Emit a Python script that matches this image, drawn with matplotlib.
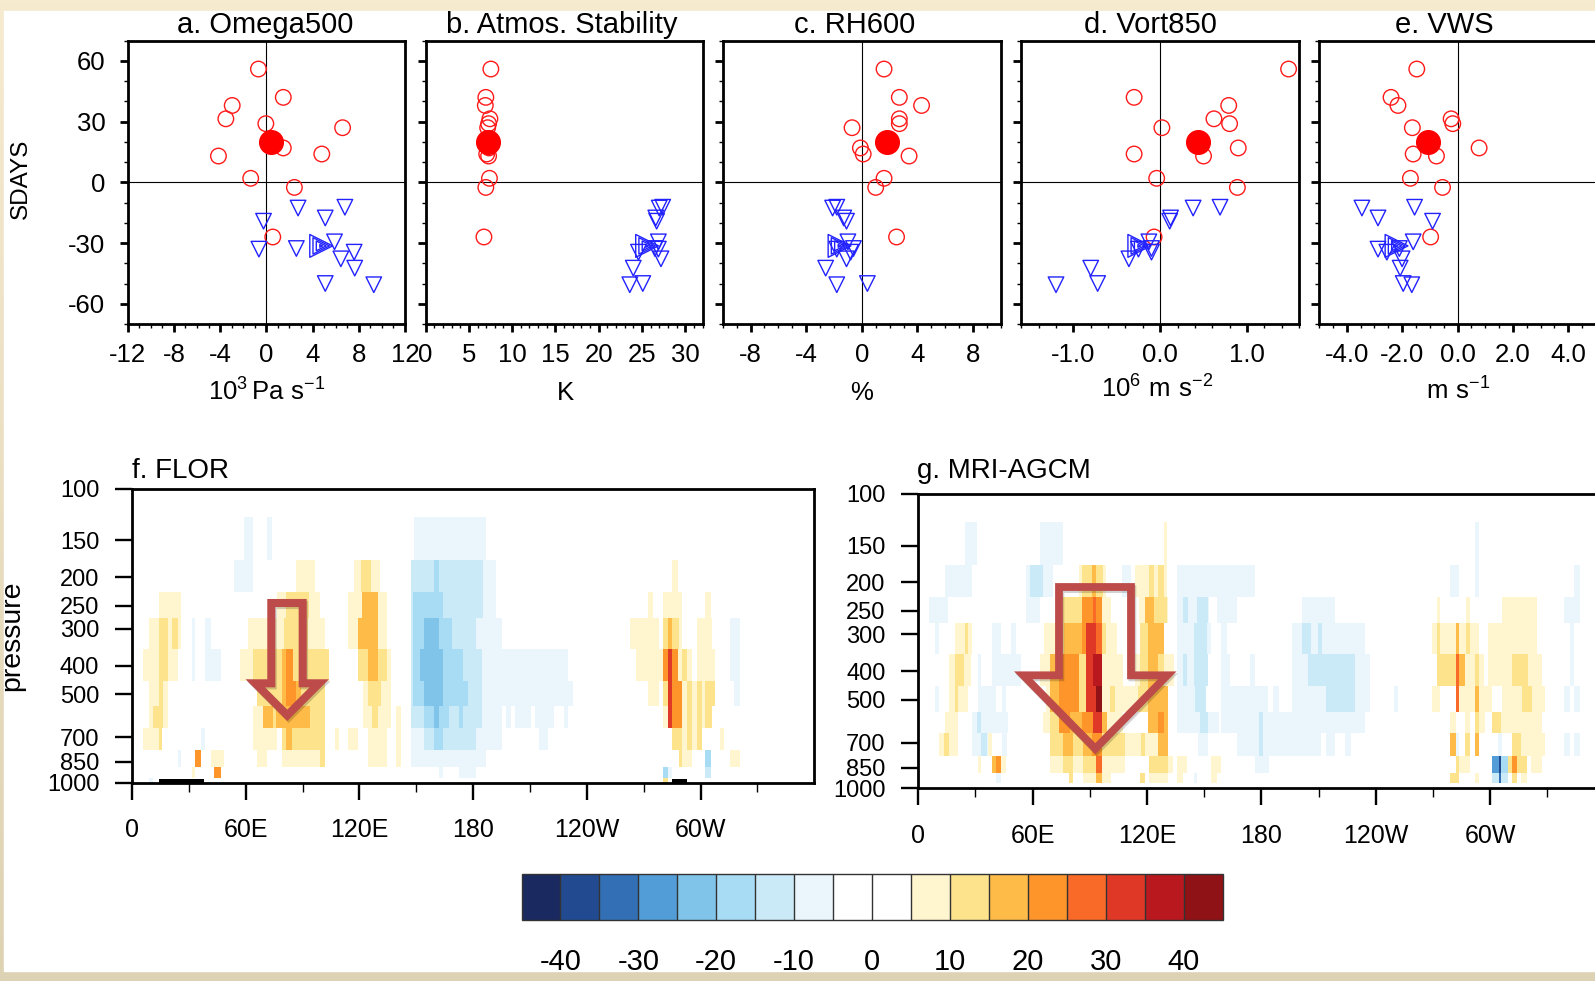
import numpy as np
import matplotlib
matplotlib.use("Agg")
import matplotlib.pyplot as plt
import matplotlib.patheffects as pe
from matplotlib.colors import ListedColormap, BoundaryNorm
from matplotlib.patches import Polygon, Rectangle
from matplotlib.ticker import MultipleLocator, FixedLocator, NullLocator

plt.rcParams["font.family"] = ["Liberation Sans", "DejaVu Sans"]
plt.rcParams["mathtext.default"] = "regular"
plt.rcParams["axes.unicode_minus"] = False

W, H = 1595, 981

# scatter panels: same SDAYS for every panel, one x list per panel
circle_y = [56, 42, 38, 31.4, 29, 27, 17, 14, 13, 2, -2.5, -27]
tri_y = [-12.7, -12.3, -17.6, -19.2, -33, -32.7, -29.4, -34.5, -37.8, -42.4, -50, -50.6]
mean_y = 20
side_y = -31.4

omega_circ = [-0.68, 1.47, -2.95, -3.5, -0.04, 6.6, 1.47, 4.8, -4.14, -1.35, 2.43, 0.56]
omega_tri = [2.75, 6.8, 5.1, -0.24, -0.64, 2.6, 5.9, 7.6, 6.45, 7.65, 5.1, 9.3]
stab_circ = [7.54, 6.96, 6.9, 7.43, 7.28, 7.17, 7.33, 7.06, 7.28, 7.38, 6.96, 6.74]
stab_tri = [27.0, 27.4, 26.6, 26.7, 26.9, 26.5, 26.9, 24.6, 27.2, 24.0, 25.1, 23.6]
rh_circ = [1.6, 2.7, 4.3, 2.7, 2.7, -0.7, -0.1, 0.1, 3.4, 1.6, 1.0, 2.5]
rh_tri = [-2.1, -1.8, -1.3, -1.1, -1.8, -0.6, -1.0, -0.8, -1.1, -2.6, 0.4, -1.8]
vort_circ = [1.48, -0.3, 0.79, 0.62, 0.8, 0.02, 0.9, -0.3, 0.5, -0.04, 0.89, -0.07]
vort_tri = [0.38, 0.69, 0.12, 0.11, -0.25, -0.1, -0.13, -0.1, -0.36, -0.8, -0.72, -1.2]
vws_circ = [-1.47, -2.4, -2.15, -0.23, -0.17, -1.63, 0.78, -1.6, -0.76, -1.7, -0.54, -0.97]
vws_tri = [-3.45, -1.55, -2.87, -0.9, -2.87, -2.1, -1.6, -2.55, -2.0, -2.07, -1.96, -1.65]
mean_x = [0.4, 7.17, 1.8, 0.44, -1.07]
side_x = [4.75, 25.6, -1.6, -0.24, -2.2]

# pressure levels and cell edges of the sections
levels = [150, 200, 250, 300, 400, 500, 600, 700, 850, 925, 1000]
p_edges = [125, 175, 225, 275, 350, 450, 550, 650, 775, 887.5, 962.5, 1000]
p_ticks = [100, 150, 200, 250, 300, 400, 500, 700, 850, 1000]

# colour classes
cmap_colors = ["#1A2A60", "#214A90", "#336FB5", "#529DD7", "#80C4E9", "#A8DCF4",
               "#CBEAF8", "#EAF6FC", "#FFFFFF", "#FFFFFF", "#FFF5CF", "#FDE38B",
               "#FEBB47", "#FD952B", "#F96A28", "#E03826", "#BA181F", "#8E1216"]
cb_bounds = list(range(-45, 50, 5))
cb_ticks = list(range(-40, 50, 10))

# f. FLOR spans per level (lon start, lon end, value), later spans paint over earlier
f_150 = [(59, 64, -7.5), (71, 74, -7.5), (149, 187, -7.5)]
f_200 = [(54, 64, -7.5), (86.5, 96.7, 7.5), (117, 131, 7.5), (121, 126, 12.5),
         (147, 185, -12.5), (159.5, 162, -17.5), (185, 192, -7.5), (285, 288, 7.5)]
f_250 = [(14, 26, 7.5), (76.5, 99, 7.5), (81.4, 93.3, 12.5), (114, 134.5, 7.5),
         (121.4, 130, 17.5), (147, 185, -12.5), (148, 164.2, -17.5), (185, 192, -7.5),
         (272.6, 275, 7.5), (280, 290, 7.5), (302.5, 305.6, 7.5)]
f_300 = [(9, 26, 7.5), (14, 19, 12.5), (21, 24.6, 12.5), (31.4, 33, -7.5), (38.8, 41.6, -7.5),
         (61, 102, 7.5), (80, 93, 12.5), (114, 134.5, 7.5), (119.6, 130, 17.5),
         (147, 182, -12.5), (148, 169, -17.5), (154, 162, -22.5), (181.8, 195, -7.5),
         (262.5, 278, 7.5), (280, 290, 7.5), (280, 288.5, 12.5), (283, 285, 17.5),
         (298, 306, 7.5), (315.8, 321, -7.5)]
f_400 = [(6, 24.4, 7.5), (14, 19, 12.5), (31.4, 33, -7.5), (38.8, 46.8, -7.5),
         (56.8, 104, 7.5), (64, 104, 12.5), (79.3, 81.4, 17.5), (81.4, 84.9, 22.5),
         (119.6, 136.7, 7.5), (119.6, 134.5, 12.5), (124.4, 130, 17.5), (147, 184.8, -12.5),
         (148, 174.8, -17.5), (152, 164.2, -22.5), (184.8, 230, -7.5), (266, 280, 7.5),
         (280, 288, 22.5), (283, 285, 32.5), (288, 295.4, 7.5), (290, 293, 12.5),
         (298, 307.4, 7.5), (315.8, 321, -7.5)]
f_500 = [(9, 19, 7.5), (14, 16.5, 12.5), (66, 102, 12.5), (79.3, 81.4, 17.5), (81.4, 86.6, 22.5),
         (86.6, 89, 17.5), (121.8, 136.7, 7.5), (124.4, 131.4, 12.5), (147, 184.8, -12.5),
         (148, 177.6, -17.5), (154, 164.2, -22.5), (184.8, 232.8, -7.5), (272.6, 278, 7.5),
         (280, 283, 12.5), (283, 285, 32.5), (285, 290, 22.5), (290, 293, 7.5), (293, 295.4, 12.5),
         (295.4, 298, 7.5), (298, 300.7, 12.5), (300.7, 302.5, 7.5), (302.5, 307.4, 12.5),
         (317.7, 321, -7.5)]
f_600 = [(9, 19, 7.5), (10.9, 16.5, 12.5), (64, 69, 7.5), (69, 74.4, 17.5), (74.4, 76, 12.5),
         (76, 93.7, 17.5), (93.7, 102, 12.5), (121.8, 136.7, 7.5), (126.6, 130, 12.5),
         (139.6, 141.8, 7.5), (147, 184.8, -12.5), (154, 167.5, -17.5), (159.5, 162, -22.5),
         (172.6, 174.8, -17.5), (184.8, 195, -7.5), (197.2, 200, -7.5), (202, 210.5, -7.5),
         (212.6, 222.6, -7.5), (227.9, 230, -7.5), (280, 283, 7.5), (283, 285, 32.5),
         (285, 290, 22.5), (290, 293, 7.5), (293, 295.4, 12.5), (295.4, 298, 7.5),
         (298, 300.7, 12.5), (300.7, 302.5, 7.5), (302.5, 306, 12.5)]
f_700 = [(6, 16, 7.5), (14, 16, 12.5), (36.5, 38.6, -7.5), (64, 76.5, 7.5), (79.3, 102, 12.5),
         (81.4, 84.6, 17.5), (107, 109, 7.5), (114, 119.6, 7.5), (124.4, 134.5, 7.5),
         (139.6, 141.8, 7.5), (147, 181.8, -7.5), (154, 181.8, -12.5), (159.5, 164.2, -17.5),
         (181.8, 195, -7.5), (214.8, 219.7, -7.5), (285, 290, 12.5), (290, 293, 7.5),
         (293, 295.4, 12.5), (295.4, 298, 7.5), (298, 300.7, 12.5), (310.5, 312.6, 7.5)]
f_850 = [(24.4, 26, -7.5), (33, 36.5, 22.5), (41.4, 48.6, 7.5), (66, 71, 7.5), (79.3, 102, 7.5),
         (99, 102, 12.5), (124.4, 134.5, 7.5), (139.6, 141.8, 7.5), (147, 186.7, -7.5),
         (288.4, 290, 12.5), (290, 295.4, 7.5), (302.5, 305.6, -17.5), (315.8, 321, 7.5)]
f_925 = [(31.4, 33, 7.5), (43.5, 46.8, 22.5), (162, 164.2, -7.5), (172.6, 181.8, -7.5),
         (280, 283, -17.5), (283, 285, -7.5), (302.5, 305.6, -12.5)]
f_1000 = [(9, 11, -7.5), (280, 283, 12.5)]
f_spans = [f_150, f_200, f_250, f_300, f_400, f_500, f_600, f_700, f_850, f_925, f_1000]

# black bars along the bottom of f
f_bars = [(14, 38), (285, 293)]

# g. MRI-AGCM spans per level
g_150 = [(24.3, 31, -7.5), (63.8, 75.9, -7.5), (129, 130.8, 7.5), (292, 294, -7.5)]
g_200 = [(13.8, 28, -7.5), (56.8, 70.8, -7.5), (58.6, 65.6, -12.5), (84.4, 98.4, 7.5),
         (85.7, 97, 12.5), (91.3, 93.2, 17.5), (106.8, 111.5, -7.5), (113.8, 130.8, 7.5),
         (121, 123.8, 12.5), (125.9, 129, 12.5), (136, 176.6, -7.5), (278.8, 283.7, -7.5),
         (292, 294, -7.5), (344, 347, -7.5)]
g_250 = [(5.8, 15.7, -7.5), (56.8, 63.8, -7.5), (76, 85.7, 12.5), (86, 91.5, 22.5),
         (91.5, 93.6, 27.5), (93.6, 96.5, 22.5), (96.5, 101, 7.5), (116, 131, 7.5),
         (119, 123.8, 17.5), (123.8, 130.3, 12.5), (136, 167, -7.5), (139, 141.5, -12.5),
         (146, 151.7, -12.5), (152.5, 156.5, 0), (201.4, 218.5, -7.5), (271.9, 273.6, 7.5),
         (287.2, 289.3, 7.5), (306.3, 324.6, 7.5), (339, 347, -7.5)]
g_300 = [(8.7, 10.8, -7.5), (18.9, 28, 7.5), (24.5, 26.2, 12.5), (38.6, 43.2, -7.5),
         (48.4, 51.2, -7.5), (66, 71.8, 7.5), (71.8, 76.5, 12.5), (76.5, 86, 17.5), (86, 88, 22.5),
         (88, 93.3, 32.5), (93.3, 96.2, 27.5), (96.2, 98.5, 12.5), (98.5, 104.4, 7.5),
         (116.3, 120.7, 12.5), (120.7, 129, 17.5), (136, 153.5, -7.5), (144.6, 151.6, -12.5),
         (158.7, 161.7, -7.5), (196.3, 234.3, -7.5), (201.4, 206.3, -12.5), (209.4, 211.9, -12.5),
         (269.6, 282, 7.5), (271.9, 273.6, 12.5), (282, 283.7, 17.5), (283.7, 294, 7.5),
         (287.2, 289.3, 12.5), (299, 324.6, 7.5), (342, 344, -7.5)]
g_400 = [(16.3, 27.4, 7.5), (18.9, 24, 12.5), (31.5, 33, -7.5), (38.6, 53.8, -7.5),
         (63.8, 69, 7.5), (69, 74, 17.5), (74, 84.5, 22.5), (84.5, 88, 12.5),
         (88, 91.5, 32.5), (91.5, 96.2, 37.5), (96.2, 107.6, 7.5), (113.7, 116.3, 7.5),
         (116.3, 120.7, 12.5), (120.7, 126, 17.5), (126, 129, 12.5), (129, 134, 7.5),
         (136, 151.7, -7.5), (139, 141, -12.5), (144.6, 151.7, -12.5),
         (158.7, 163.5, -7.5), (174, 176.6, -7.5), (196.3, 204.5, -7.5), (204.5, 229, -12.5),
         (229, 236.9, -7.5), (271.9, 282, 12.5), (282, 283.7, 27.5), (283.7, 287, 17.5),
         (287, 292, 7.5), (292, 294, 12.5), (294, 296.9, 7.5), (299, 327, 7.5),
         (311.7, 320, 12.5), (342, 344, -7.5)]
g_500 = [(8.7, 10.8, -7.5), (16.3, 25.9, 7.5), (18.9, 21, 12.5), (31.5, 41, -7.5),
         (43.9, 46.3, -7.5), (67, 69, 7.5), (69, 74, 17.5), (74, 84.5, 22.5), (84.5, 88, 12.5),
         (88, 93.3, 32.5), (93.3, 96.6, 42.5), (96.6, 100.5, 7.5), (100.5, 103, 12.5),
         (103, 115.4, 7.5), (115.4, 120.7, 12.5), (120.7, 131.2, 17.5), (136, 145.2, -7.5),
         (145.2, 151, -12.5), (158.7, 183.6, -7.5), (186, 189, -7.5), (196.3, 214, -7.5),
         (214, 229, -12.5), (229, 236.9, -7.5), (249.5, 251.4, -7.5), (269.6, 273.6, 7.5),
         (282, 283.7, 27.5), (283.7, 292, 7.5), (292, 294, 17.5), (294, 301.2, 7.5),
         (306.3, 328.7, 7.5), (316.8, 321.7, 12.5), (339, 342, -7.5), (344, 347, -7.5)]
g_600 = [(13.8, 21, 7.5), (28, 47, -7.5), (31, 33, -12.5), (65.6, 69, 7.5), (69, 74, 12.5),
         (74, 79.6, 22.5), (79.6, 86, 17.5), (86, 91.5, 22.5), (91.5, 96.6, 32.5), (96.6, 98.9, 17.5),
         (98.9, 107.6, 7.5), (120.7, 131.2, 17.5), (126, 129, 22.5), (136, 158, -7.5),
         (148, 151.7, -12.5), (158.7, 234.3, -7.5), (178.8, 181, -12.5), (278.8, 282, 7.5),
         (286.7, 289.3, 7.5), (292, 294, 12.5), (294, 297.2, 7.5), (301.2, 306, 12.5), (306, 327, 7.5)]
g_700 = [(10.7, 21, 7.5), (13.6, 16, 12.5), (28, 36.7, -7.5), (32.9, 36.2, -12.5), (36.7, 38.5, 7.5),
         (43.7, 46.7, -7.5), (69, 108.5, 12.5), (76, 81, 17.5), (86.3, 91, 17.5), (91, 96.6, 22.5),
         (108.5, 126, 7.5), (116.7, 119, 12.5), (126, 131.2, 17.5), (146.5, 151.7, -7.5),
         (167, 211.5, -7.5), (178.8, 181, -12.5), (213.8, 218.5, -7.5), (223.8, 227, -7.5),
         (278.8, 282, 17.5), (282, 283.7, -7.5), (287, 289.3, 12.5), (292, 294, 17.5),
         (304, 306.3, -7.5), (311.7, 316.4, 12.5), (316.4, 328.7, 7.5), (339, 342, -7.5), (344, 347, -7.5)]
g_850 = [(31.5, 33, 7.5), (38.5, 41, 17.5), (41, 43.4, 22.5), (43.4, 46.3, 7.5), (69, 76, 7.5),
         (76, 81, 12.5), (81, 86.3, 7.5), (86.3, 93.3, 12.5), (93.3, 96.6, 27.5), (96.6, 108.5, 7.5),
         (121, 131.2, 12.5), (131.2, 133.7, 7.5), (136, 141.3, 7.5), (153.8, 158.7, 7.5),
         (176.6, 184, -7.5), (282, 283.7, 12.5), (283.7, 289.3, 7.5), (301, 304.5, -27.5),
         (304.5, 306, -37.5), (306, 309.4, -17.5), (309.4, 311.5, 12.5), (311.5, 314.3, 22.5),
         (314.3, 319.6, 12.5), (321.3, 327, 7.5)]
g_925 = [(41, 43.4, -7.5), (79.3, 81, 12.5), (86.3, 101, 7.5), (93.3, 96.6, 17.5), (116.3, 119, 12.5),
         (121, 131.2, 7.5), (136, 139, 7.5), (144.6, 146, -7.5), (153.5, 156.5, 7.5),
         (278.8, 283.7, 12.5), (292, 294, 7.5), (301, 309.4, -12.5), (304.5, 306, -32.5),
         (311.5, 314.3, 12.5), (316.4, 319.6, 7.5)]
g_1000 = []
g_spans = [g_150, g_200, g_250, g_300, g_400, g_500, g_600, g_700, g_850, g_925, g_1000]

lon_edges = np.arange(0, 360.25, 0.25)
lon_mid = (lon_edges[:-1] + lon_edges[1:]) / 2


def rect(x0, y0, x1, y1):
  # pixel box (origin top left) to figure fractions
  return [x0 / W, 1 - y1 / H, (x1 - x0) / W, (y1 - y0) / H]


def px(x, y):
  return x / W, 1 - y / H


def make_grid(spans):
  grid = np.zeros((len(levels), lon_mid.size))
  for i, level_spans in enumerate(spans):
    for lon0, lon1, val in level_spans:
      grid[i, (lon_mid >= lon0) & (lon_mid < lon1)] = val
  return grid


fig = plt.figure(figsize=(W / 100, H / 100), dpi=100)

# slide background: cream to tan, white page on top
bg = fig.add_axes([0, 0, 1, 1], zorder=-5)
bg.imshow(np.linspace(0, 1, 256).reshape(-1, 1), aspect="auto", extent=[0, 1, 0, 1],
          cmap=ListedColormap(np.linspace([0.965, 0.918, 0.812], [0.867, 0.827, 0.702], 256)))
bg.add_patch(Rectangle((4 / W, 1 - 970.5 / H), 1, 959.5 / H, color="white"))
bg.set_axis_off()

# top row
panels = [
  ("a. Omega500", omega_circ, omega_tri, (-12, 12), 4, 1, [-12, -8, -4, 0, 4, 8, 12], None,
   r"$10^{3}\,$Pa s$^{-1}$", 127.6, 405, 265, 267, 392),
  ("b. Atmos. Stability", stab_circ, stab_tri, (0, 32), 5, 1, [0, 5, 10, 15, 20, 25, 30], None,
   "K", 425.6, 702.5, 561.5, 565.5, 393),
  ("c. RH600", rh_circ, rh_tri, (-10, 10), 4, 1, [-8, -4, 0, 4, 8], None, "%", 722.8, 1000.8, 854.5, 862, 393),
  ("d. Vort850", vort_circ, vort_tri, (-1.6, 1.6), 1, 0.2, [-1, 0, 1], "%.1f",
   r"$10^{6}\ m\ s^{-2}$", 1021.3, 1299, 1150.5, 1157, 389),
  ("e. VWS", vws_circ, vws_tri, (-5, 5), 2, 0.5, [-4, -2, 0, 2, 4], "%.1f",
   r"$m\ s^{-1}$", 1319, 1596, 1444.5, 1458, 391),
]
for i, (title, cx, tx, xlim, maj, mnr, xt, fmt, xlab, left, right, title_x, lab_x, lab_y) in enumerate(panels):
  ax = fig.add_axes(rect(left, 40.7, right, 324))
  ax.set_xlim(xlim)
  ax.set_ylim(-70, 70)
  ax.axhline(0, color="black", lw=0.8, zorder=1)
  ax.axvline(0, color="black", lw=0.8, zorder=1)
  ax.scatter(cx, circle_y, s=125, facecolors="none", edgecolors="#ff1a1a", linewidths=1.0, zorder=3)
  ax.scatter(tx, tri_y, s=125, marker="v", facecolors="none", edgecolors="#2222ff", linewidths=1.0, zorder=3)
  for ms in [270, 140, 50, 4]:
    ax.scatter([side_x[i]], [side_y], s=ms, marker=">", facecolors="none",
               edgecolors="#2222ff", linewidths=1.0, zorder=3)
  ax.scatter([mean_x[i]], [mean_y], s=290, color="#ff0000", zorder=4)

  ax.set_xticks(xt)
  if fmt:
    ax.set_xticklabels([fmt % v for v in xt])
  ax.xaxis.set_minor_locator(MultipleLocator(mnr))
  ax.set_yticks([-60, -30, 0, 30, 60])
  ax.yaxis.set_minor_locator(MultipleLocator(10))
  ax.tick_params(which="major", length=6, width=2, labelsize=18.5)
  ax.tick_params(which="minor", length=3, width=1)
  ax.tick_params(axis="x", which="major", pad=8)
  ax.tick_params(axis="y", which="major", pad=10)
  if i > 0:
    ax.tick_params(axis="y", labelleft=False)
  for sp in ax.spines.values():
    sp.set_linewidth(2)
  fig.text(*px(title_x, 25), title, fontsize=21, ha="center", va="center")
  fig.text(*px(lab_x, lab_y), xlab, fontsize=18.5, ha="center", va="center")

fig.text(*px(21, 179), "SDAYS", fontsize=17.5, rotation=90, ha="center", va="center")

# sections
cmap = ListedColormap(cmap_colors)
norm = BoundaryNorm(cb_bounds, cmap.N)
sections = [
  ("f. FLOR", f_spans, rect(132, 488.7, 814.3, 782.7), 132),
  ("g. MRI-AGCM", g_spans, rect(918.3, 493.7, 1604.4, 788.3), 917),
]
for title, spans, box, title_x in sections:
  ax = fig.add_axes(box)
  mesh = ax.pcolormesh(lon_edges, p_edges, make_grid(spans), cmap=cmap, norm=norm, antialiased=False)
  ax.set_yscale("log")
  ax.set_ylim(1000, 100)
  ax.set_xlim(0, 360)
  ax.yaxis.set_major_locator(FixedLocator(p_ticks))
  ax.yaxis.set_minor_locator(NullLocator())
  ax.set_yticklabels([str(p) for p in p_ticks])
  ax.set_xticks([0, 60, 120, 180, 240, 300])
  ax.set_xticklabels(["0", "60E", "120E", "180", "120W", "60W"])
  ax.set_xticks(np.arange(30, 360, 60), minor=True)
  ax.tick_params(which="major", length=12.5, width=1.7, labelsize=18)
  ax.tick_params(axis="y", which="major", labelsize=17)
  ax.tick_params(which="minor", length=6.5, width=1)
  ax.tick_params(axis="x", which="major", pad=13)
  ax.tick_params(axis="y", which="major", pad=11)
  for sp in ax.spines.values():
    sp.set_linewidth(2)
  fig.text(*px(title_x, 470.5), title, fontsize=20, ha="left", va="center")
  if title.startswith("f"):
    for lon0, lon1 in f_bars:
      ax.fill_between([lon0, lon1], 972, 1000, color="black", lw=0, zorder=4)

fig.text(*px(12, 636), "pressure", fontsize=20.5, rotation=90, ha="center", va="center")

# colour bar
cax = fig.add_axes(rect(521.5, 874, 1222.5, 920))
cb = fig.colorbar(mesh, cax=cax, orientation="horizontal", boundaries=cb_bounds,
                  ticks=cb_ticks, drawedges=True)
cb.minorticks_off()
cb.ax.tick_params(which="both", length=0, labelsize=21, pad=20)
cb.dividers.set_color("#333333")
cb.dividers.set_linewidth(1)
cb.outline.set_edgecolor("#333333")
cb.outline.set_linewidth(1)
cb.set_ticklabels([str(t) for t in cb_ticks])

# hollow arrows, in page pixels
arrow_f = [(271.3, 603), (302.7, 603), (302.7, 683.3), (319.3, 683.3), (287.3, 715.3), (255.3, 683.3), (271.3, 683.3)]
arrow_g = [(1059, 587), (1131, 587), (1131, 675.3), (1167.3, 675.3), (1095.3, 748.7), (1023.3, 675.3), (1059, 675.3)]
for pts, lw in [(arrow_f, 5.8), (arrow_g, 5.6)]:
  poly = Polygon([px(x, y) for x, y in pts], closed=True, fill=False, edgecolor="#BC4B49", lw=lw,
                 joinstyle="miter", transform=fig.transFigure, zorder=10,
                 path_effects=[pe.SimpleLineShadow(offset=(1, -1.5), alpha=0.18), pe.Normal()])
  fig.add_artist(poly)

fig.savefig("out.png", dpi=100)
